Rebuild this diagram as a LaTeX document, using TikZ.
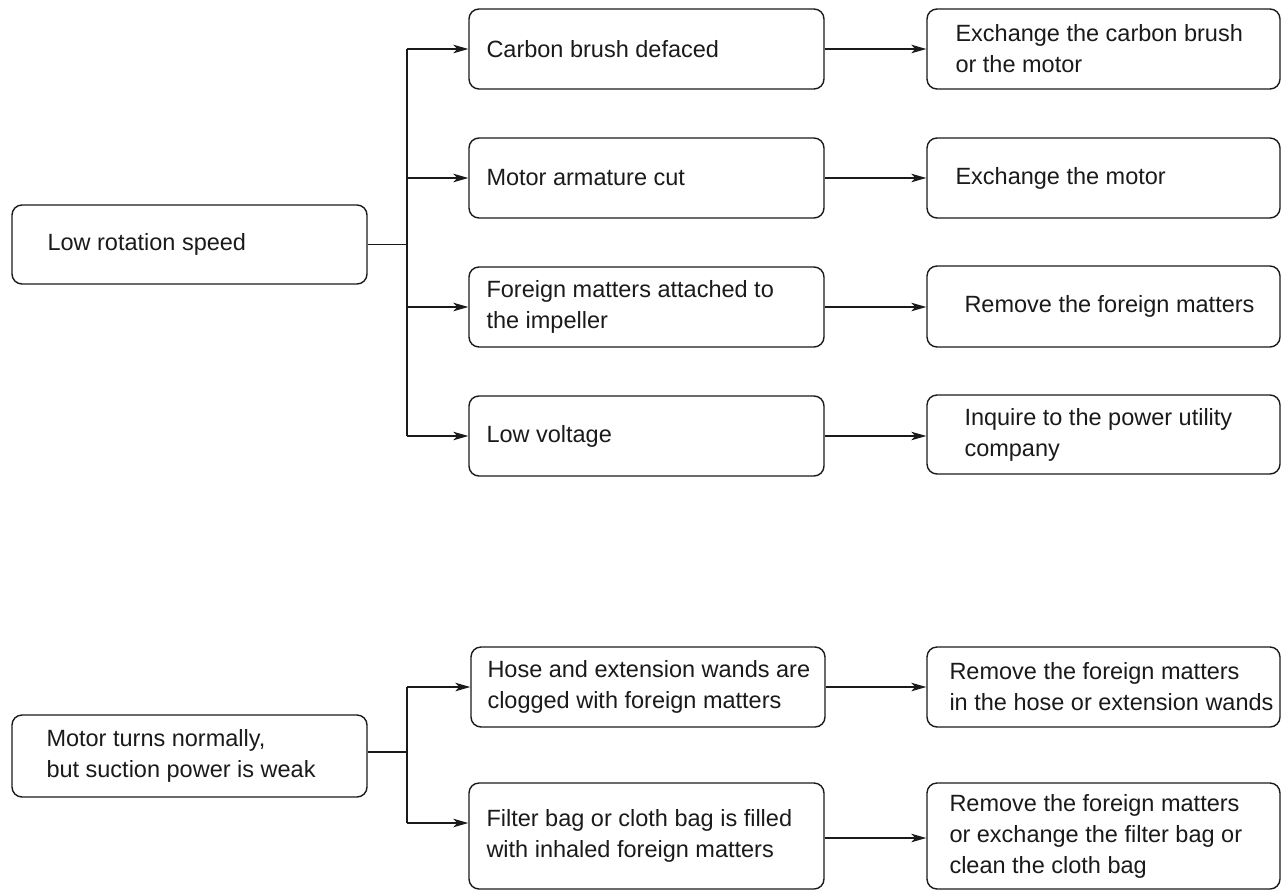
\documentclass[tikz,border=0pt]{standalone}
\usepackage{fontspec}
\setmainfont{Liberation Sans}
\usetikzlibrary{arrows.meta}
\definecolor{ink}{HTML}{1A1A1A}
\begin{document}
\begin{tikzpicture}[x=1pt,y=-1pt,
  box/.style={draw=ink, line width=1.4pt, rounded corners=10pt, inner sep=0pt, minimum width=355pt, minimum height=80pt},
  rbox/.style={box, minimum width=353pt},
  txt/.style={anchor=west, align=left, inner sep=0pt, text=ink, font=\fontsize{23.5}{31}\selectfont},
  conn/.style={draw=ink, line width=1.1pt},
  arr/.style={conn, -{Stealth[length=15pt,width=8.5pt,inset=4pt]}}]
\useasboundingbox (0,0) rectangle (1282,892);

% ---- upper group ----
\node[box, minimum height=79pt] (L1) at (189.5,244.5) {};
\node[txt] (tL1) at ([xshift=36pt]L1.west) {Low rotation speed};

\node[box] (M1) at (646.5,49) {};
\node[box] (M2) at (646.5,178) {};
\node[box] (M3) at (646.5,307) {};
\node[box] (M4) at (646.5,436) {};
\node[txt] (tM1) at ([xshift=18pt]M1.west) {Carbon brush defaced};
\node[txt] (tM2) at ([xshift=18pt]M2.west) {Motor armature cut};
\node[txt] (tM3) at ([xshift=18pt]M3.west) {Foreign matters attached to\\the impeller};
\node[txt] (tM4) at ([xshift=18pt]M4.west) {Low voltage};

\node[rbox] (R1) at (1103.5,49) {};
\node[rbox] (R2) at (1103.5,178) {};
\node[rbox, minimum height=81pt] (R3) at (1103.5,306.5) {};
\node[rbox, minimum height=79pt] (R4) at (1103.5,434.5) {};
\node[txt] (tR1) at ([xshift=29pt]R1.west) {Exchange the carbon brush\\or the motor};
\node[txt] (tR2) at ([xshift=29pt]R2.west) {Exchange the motor};
\node[txt] (tR3) at ([xshift=38pt]R3.west) {Remove the foreign matters};
\node[txt] (tR4) at ([xshift=38pt]R4.west) {Inquire to the power utility\\company};

\coordinate (j1) at (407,244.5);
\draw[conn] (L1.east) -- (j1);
\draw[conn] (M1.west -| j1) -- (M4.west -| j1);
\foreach \m in {M1,M2,M3,M4}{\draw[arr] (\m.west -| j1) -- (\m.west);}
\draw[arr] (M1.east) -- (R1.west);
\draw[arr] (M2.east) -- (R2.west);
\draw[arr] (M3.east) -- (R3.west |- M3.east);
\draw[arr] (M4.east) -- (R4.west |- M4.east);

% ---- lower group ----
\node[box, minimum height=82pt] (L2) at (189.5,756) {};
\node[txt] (tL2) at ([xshift=35pt]L2.west) {Motor turns normally,\\but suction power is weak};

\node[box, minimum width=354pt] (M5) at (648,687) {};
\node[box, minimum height=106pt] (M6) at (646.5,836) {};
\node[txt] (tM5) at ([xshift=17pt]M5.west) {Hose and extension wands are\\clogged with foreign matters};
\node[txt] (tM6) at ([xshift=18pt]M6.west) {Filter bag or cloth bag is filled\\with inhaled foreign matters};

\node[rbox] (R5) at (1103.5,687) {};
\node[rbox, minimum height=106pt] (R6) at (1103.5,836) {};
\node[txt] (tR5) at ([xshift=23pt]R5.west) {Remove the foreign matters\\in the hose or extension wands};
\node[txt] (tR6) at ([xshift=23pt]R6.west) {Remove the foreign matters\\or exchange the filter bag or\\clean the cloth bag};

\coordinate (j2) at (407,752);
\coordinate (f6) at (0,823);
\coordinate (g6) at (0,838);
\draw[conn] (L2.east |- j2) -- (j2);
\draw[conn] (M5.west -| j2) -- (j2 |- f6);
\draw[arr] (M5.west -| j2) -- (M5.west);
\draw[arr] (j2 |- f6) -- (M6.west |- f6);
\draw[arr] (M5.east) -- (R5.west |- M5.east);
\draw[arr] (M6.east |- g6) -- (R6.west |- g6);
\end{tikzpicture}
\end{document}
